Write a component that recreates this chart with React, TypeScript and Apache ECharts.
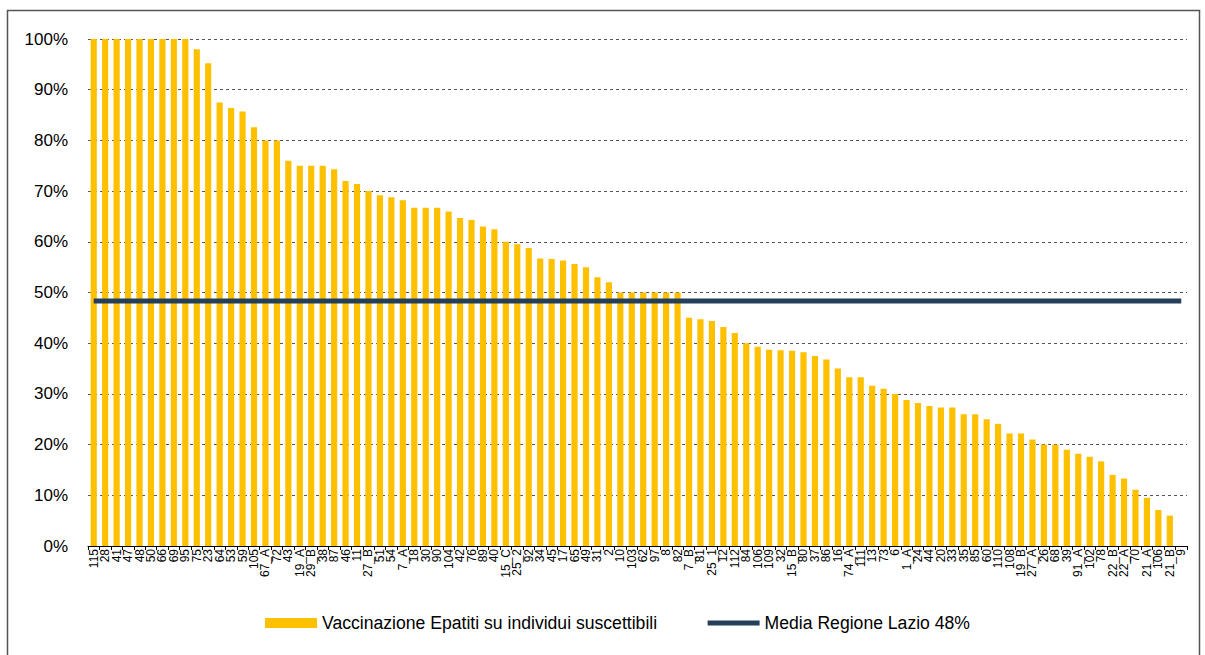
import React, { useEffect, useRef } from "react";
import * as echarts from "echarts";

const categories: string[] = [
  "115", "28", "41", "47", "48", "50", "66", "69", "95", "75",
  "23", "64", "53", "59", "105", "67_A", "72", "43", "19_A", "29_B",
  "38", "87", "46", "11", "27_B", "51", "54", "7_A", "18", "30",
  "90", "104", "42", "76", "89", "40", "15_C", "25_2", "92", "34",
  "45", "17", "65", "49", "31", "2", "10", "103", "62", "97",
  "8", "82", "7_B", "81", "25_1", "12", "112", "84", "106", "109",
  "32", "15_B", "80", "37", "86", "16", "74_A", "111", "13", "73",
  "6", "1_A", "24", "44", "20", "33", "35", "85", "60", "110",
  "108", "19_B", "27_A", "26", "68", "39", "91_A", "102", "78", "22_B",
  "22_A", "70", "21_A", "106", "21_B", "9",
];

const vaccinazione: number[] = [
  100, 100, 100, 100, 100, 100, 100, 100, 100, 98,
  95.2, 87.5, 86.4, 85.7, 82.6, 80, 80, 76, 75, 75,
  75, 74.3, 72, 71.4, 70, 69.2, 68.8, 68.2, 66.7, 66.7,
  66.7, 66, 64.7, 64.3, 63, 62.5, 60, 59.5, 58.8, 56.7,
  56.6, 56.3, 55.6, 55, 53, 52, 50, 50, 50, 50,
  50, 50, 45, 44.7, 44.4, 43.2, 42, 40, 39.3, 38.7,
  38.6, 38.5, 38.2, 37.5, 36.8, 35, 33.3, 33.3, 31.6, 31,
  30, 28.8, 28.2, 27.6, 27.3, 27.3, 26, 26, 25, 24.1,
  22.2, 22.2, 21, 20, 20, 19, 18.2, 17.6, 16.7, 14,
  13.3, 11.1, 9.5, 7.1, 6, 0,
];

const mediaValue = 48.3;
const media: number[] = categories.map(() => mediaValue);

const barName = "Vaccinazione Epatiti su individui suscettibili";
const lineName = "Media Regione Lazio 48%";

export default function App() {
  const ref = useRef<HTMLDivElement>(null);
  useEffect(() => {
    document.body.style.margin = "0";
    if (!ref.current) return;
    const chart = echarts.init(ref.current, undefined, { renderer: "svg" });
    chart.setOption({
      animation: false,
      backgroundColor: "#ffffff",
      textStyle: { fontFamily: "Liberation Sans, Arial, sans-serif", color: "#000" },
      graphic: [
        {
          type: "rect",
          shape: { x: 7.5, y: 10.5, width: 1192, height: 660 },
          style: { fill: "none", stroke: "#555", lineWidth: 1.5 },
          silent: true,
        },
      ],
      grid: { left: 88, right: 18, top: 39, bottom: 109 },
      legend: {
        left: 265,
        top: 614,
        padding: 0,
        itemGap: 48,
        itemWidth: 52,
        itemHeight: 10,
        textStyle: { fontSize: 17.6, color: "#000", fontFamily: "Liberation Sans, Arial, sans-serif" },
        data: [
          { name: barName, icon: "rect" },
          {
            name: lineName,
            itemStyle: { opacity: 0 },
            lineStyle: { width: 5, color: "#243F5A" },
          },
        ],
      },
      xAxis: {
        type: "category",
        data: categories,
        axisLine: { show: true, lineStyle: { color: "#000", width: 1 } },
        axisTick: { show: true, alignWithLabel: false, lineStyle: { color: "#000" }, length: 4 },
        axisLabel: {
          rotate: 90,
          interval: 0,
          fontSize: 12,
          color: "#000",
          margin: 3,
        },
      },
      yAxis: {
        type: "value",
        min: 0,
        max: 100,
        interval: 10,
        axisLine: { show: false },
        axisTick: { show: false },
        axisLabel: { formatter: "{value}%", fontSize: 17, color: "#000", margin: 20 },
        splitLine: { show: true, lineStyle: { color: "#555", type: [3, 3], width: 1 } },
      },
      series: [
        {
          name: barName,
          type: "bar",
          data: vaccinazione,
          barCategoryGap: "46%",
          itemStyle: { color: "#FFC000" },
        },
        {
          name: lineName,
          type: "line",
          data: media,
          symbol: "none",
          lineStyle: { color: "#243F5A", width: 5 },
          itemStyle: { color: "#243F5A" },
        },
      ],
    });
    return () => chart.dispose();
  }, []);
  return <div ref={ref} style={{ width: 1205, height: 655 }} />;
}
